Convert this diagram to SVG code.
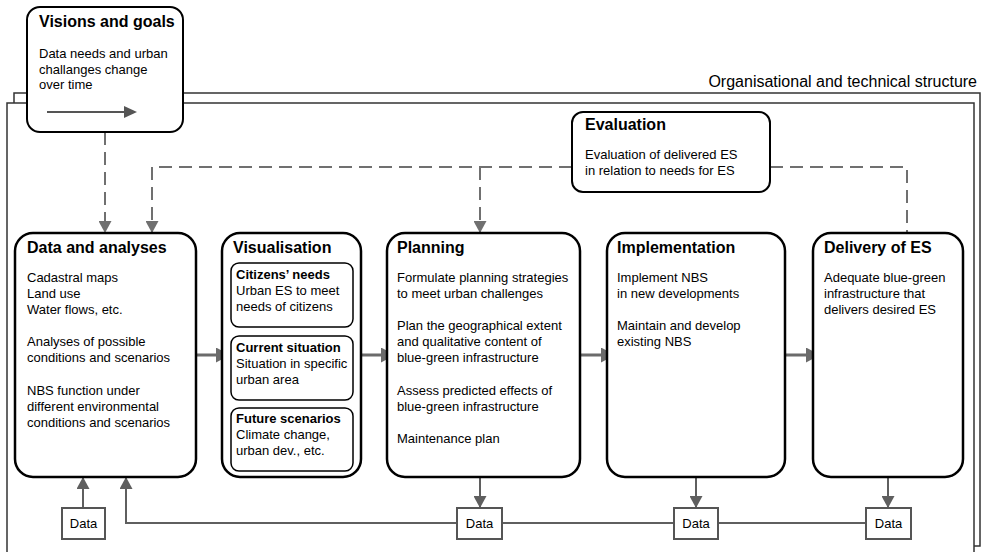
<svg xmlns="http://www.w3.org/2000/svg" width="985" height="552" viewBox="0 0 985 552">
<style>
text{font-family:"Liberation Sans",Arial,sans-serif;fill:#000}
.t{font-size:16px;font-weight:bold}
.b{font-size:13px}
.st{font-size:13px;font-weight:bold}
.main{fill:#fff;stroke:#000;stroke-width:2.5}
.sub{fill:#fff;stroke:#000;stroke-width:1.5}
.frame{fill:#fff;stroke:#333;stroke-width:1.5}
.dash{fill:none;stroke:#707070;stroke-width:2;stroke-dasharray:13 7}
.thick{fill:none;stroke:#6b6b6b;stroke-width:3}
.thin{fill:none;stroke:#5f5f5f;stroke-width:2}
.data{fill:#fff;stroke:#555;stroke-width:2}
</style>
<defs>
<marker id="ah" viewBox="0 0 14 15" refX="11" refY="7.5" markerWidth="14" markerHeight="15" markerUnits="userSpaceOnUse" orient="auto"><path d="M0,0 L14,7.5 L0,15 z" fill="#6b6b6b"/></marker>
<marker id="ad" viewBox="0 0 12 13" refX="12" refY="6.5" markerWidth="12" markerHeight="13" markerUnits="userSpaceOnUse" orient="auto"><path d="M0,0 L12,6.5 L0,13 z" fill="#707070"/></marker>
<marker id="at" viewBox="0 0 12 13" refX="12" refY="6.5" markerWidth="12" markerHeight="13" markerUnits="userSpaceOnUse" orient="auto"><path d="M0,0 L12,6.5 L0,13 z" fill="#5f5f5f"/></marker>
</defs>

<g id="org-structure">
<rect class="frame" x="14" y="93" width="966" height="453"/>
<rect class="frame" x="7" y="103" width="967" height="460"/>
<text x="977" y="87" font-size="16" text-anchor="end">Organisational and technical structure</text>
</g>

<g id="connectors">
<path class="dash" d="M105,132 V233" marker-end="url(#ad)"/>
<path class="dash" d="M572,167 H152 V233" marker-end="url(#ad)"/>
<path class="dash" d="M480,167 V233" marker-end="url(#ad)"/>
<path class="dash" d="M770,167 H907 V233"/>
<path class="thick" d="M189,355 H227" marker-end="url(#ah)"/>
<path class="thick" d="M354,355 H392" marker-end="url(#ah)"/>
<path class="thick" d="M573,355 H612" marker-end="url(#ah)"/>
<path class="thick" d="M780,355 H817" marker-end="url(#ah)"/>
<path class="thin" d="M83,508 V477" marker-end="url(#at)"/>
<path class="thin" d="M457,523 H126 V477" marker-end="url(#at)"/>
<path class="thin" d="M502,523 H674"/>
<path class="thin" d="M718,523 H866"/>
<path class="thin" d="M480,477 V508" marker-end="url(#at)"/>
<path class="thin" d="M696,477 V508" marker-end="url(#at)"/>
<path class="thin" d="M888,477 V508" marker-end="url(#at)"/>
</g>

<g id="visions">
<rect x="27" y="7" width="156" height="125" rx="13" fill="#fff" stroke="#000" stroke-width="2"/>
<text class="t" x="39" y="27">Visions and goals</text>
<text class="b" x="39" y="58">Data needs and urban</text>
<text class="b" x="39" y="73.5">challanges change</text>
<text class="b" x="39" y="89">over time</text>
<path d="M47,112 H125" stroke="#555" stroke-width="2" fill="none"/>
<path d="M124,106 L137,112 L124,118 z" fill="#555"/>
</g>

<g id="evaluation">
<rect x="572" y="112" width="198" height="80" rx="11" fill="#fff" stroke="#000" stroke-width="2"/>
<text class="t" x="585" y="130">Evaluation</text>
<text class="b" x="585" y="159">Evaluation of delivered ES</text>
<text class="b" x="585" y="175">in relation to needs for ES</text>
</g>

<g id="data-analyses">
<rect class="main" x="15" y="233" width="181" height="244" rx="18"/>
<text class="t" x="27" y="253">Data and analyses</text>
<text class="b" x="27" y="282">Cadastral maps</text>
<text class="b" x="27" y="298">Land use</text>
<text class="b" x="27" y="314">Water flows, etc.</text>
<text class="b" x="27" y="346">Analyses of possible</text>
<text class="b" x="27" y="362">conditions and scenarios</text>
<text class="b" x="27" y="395">NBS function under</text>
<text class="b" x="27" y="411">different environmental</text>
<text class="b" x="27" y="427">conditions and scenarios</text>
</g>

<g id="visualisation">
<rect class="main" x="222" y="233" width="139" height="244" rx="18"/>
<text class="t" x="233" y="253">Visualisation</text>
<rect class="sub" x="231" y="263" width="122" height="64" rx="8"/>
<text class="st" x="236" y="279">Citizens’ needs</text>
<text class="b" x="236" y="295">Urban ES to meet</text>
<text class="b" x="236" y="311">needs of citizens</text>
<rect class="sub" x="231" y="336" width="122" height="64" rx="8"/>
<text class="st" x="236" y="352">Current situation</text>
<text class="b" x="236" y="368">Situation in specific</text>
<text class="b" x="236" y="384">urban area</text>
<rect class="sub" x="231" y="408" width="122" height="63" rx="8"/>
<text class="st" x="236" y="423">Future scenarios</text>
<text class="b" x="236" y="439">Climate change,</text>
<text class="b" x="236" y="455">urban dev., etc.</text>
</g>

<g id="planning">
<rect class="main" x="387" y="233" width="193" height="244" rx="18"/>
<text class="t" x="397" y="253">Planning</text>
<text class="b" x="397" y="282">Formulate planning strategies</text>
<text class="b" x="397" y="298">to meet urban challenges</text>
<text class="b" x="397" y="330">Plan the geographical extent</text>
<text class="b" x="397" y="346">and qualitative content of</text>
<text class="b" x="397" y="362">blue-green infrastructure</text>
<text class="b" x="397" y="395">Assess predicted effects of</text>
<text class="b" x="397" y="411">blue-green infrastructure</text>
<text class="b" x="397" y="443">Maintenance plan</text>
</g>

<g id="implementation">
<rect class="main" x="607" y="233" width="178" height="244" rx="18"/>
<text class="t" x="617" y="253">Implementation</text>
<text class="b" x="617" y="282">Implement NBS</text>
<text class="b" x="617" y="298">in new developments</text>
<text class="b" x="617" y="330">Maintain and develop</text>
<text class="b" x="617" y="346">existing NBS</text>
</g>

<g id="delivery">
<rect class="main" x="813" y="233" width="150" height="244" rx="18"/>
<text class="t" x="824" y="253">Delivery of ES</text>
<text class="b" x="824" y="282">Adequate blue-green</text>
<text class="b" x="824" y="298">infrastructure that</text>
<text class="b" x="824" y="314">delivers desired ES</text>
</g>

<g id="data-1"><rect class="data" x="62" y="508" width="43" height="31"/><text class="b" x="83.5" y="528" text-anchor="middle">Data</text></g>
<g id="data-2"><rect class="data" x="457" y="508" width="45" height="31"/><text class="b" x="479.5" y="528" text-anchor="middle">Data</text></g>
<g id="data-3"><rect class="data" x="674" y="508" width="44" height="31"/><text class="b" x="696" y="528" text-anchor="middle">Data</text></g>
<g id="data-4"><rect class="data" x="866" y="508" width="45" height="31"/><text class="b" x="888.5" y="528" text-anchor="middle">Data</text></g>
</svg>
